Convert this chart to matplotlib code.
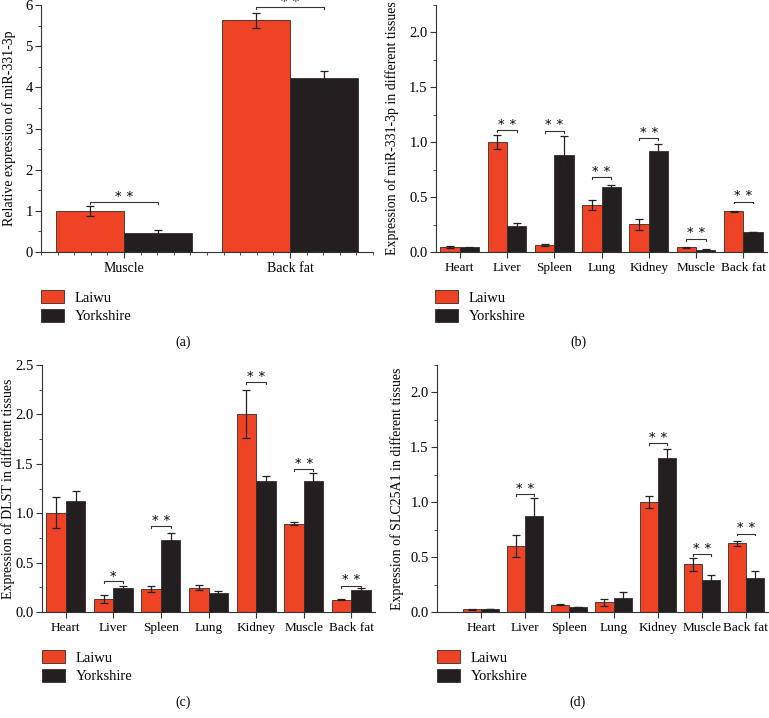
import numpy as np
import matplotlib.pyplot as plt
from matplotlib.patches import Patch
from matplotlib.ticker import MultipleLocator

plt.rcParams['font.family'] = ['Liberation Serif', 'DejaVu Serif']

RED = '#ee4325'
BLACK = '#231f20'

# (a) miR-331-3p, muscle vs back fat
a_cats = ['Muscle', 'Back fat']
a_laiwu = [1.0, 5.63]
a_laiwu_err = [0.12, 0.18]
a_york = [0.46, 4.23]
a_york_err = [0.07, 0.17]
a_sig = [(0, '**', 1.21), (1, '**', 5.95)]

tissues = ['Heart', 'Liver', 'Spleen', 'Lung', 'Kidney', 'Muscle', 'Back fat']

# (b) miR-331-3p in tissues
b_laiwu = [0.046, 1.0, 0.067, 0.426, 0.253, 0.043, 0.37]
b_laiwu_err = [0.006, 0.065, 0.01, 0.045, 0.05, 0.005, 0.008]
b_york = [0.043, 0.237, 0.88, 0.59, 0.92, 0.021, 0.183]
b_york_err = [0.003, 0.03, 0.18, 0.02, 0.065, 0.003, 0.003]
b_sig = [(1, '**', 1.11), (2, '**', 1.105), (3, '**', 0.685), (4, '**', 1.035),
         (5, '**', 0.122), (6, '**', 0.46)]

# (c) DLST
c_laiwu = [1.007, 0.135, 0.233, 0.247, 2.0, 0.895, 0.122]
c_laiwu_err = [0.155, 0.04, 0.034, 0.027, 0.243, 0.017, 0.005]
c_york = [1.12, 0.247, 0.726, 0.196, 1.324, 1.324, 0.22]
c_york_err = [0.1, 0.02, 0.074, 0.012, 0.05, 0.085, 0.02]
c_sig = [(1, '*', 0.31), (2, '**', 0.87), (4, '**', 2.325), (5, '**', 1.45), (6, '**', 0.267)]

# (d) SLC25A1
d_laiwu = [0.024, 0.60, 0.067, 0.088, 1.0, 0.435, 0.624]
d_laiwu_err = [0.003, 0.1, 0.004, 0.03, 0.053, 0.06, 0.027]
d_york = [0.027, 0.874, 0.046, 0.131, 1.406, 0.289, 0.31]
d_york_err = [0.003, 0.16, 0.003, 0.05, 0.077, 0.052, 0.06]
d_sig = [(1, '**', 1.075), (4, '**', 1.537), (5, '**', 0.524), (6, '**', 0.715)]

W = 0.41


def panel(rect, cats, laiwu, lerr, york, yerr, sig, ylabel, ylim, ymaj, ymin,
          xlim, fmt, xminor, labx, xfs, yfs):
    ax = fig.add_axes(rect)
    x = np.arange(1, len(cats) + 1)
    ax.bar(x - W / 2, laiwu, W, color=RED, edgecolor='#3a2a25', linewidth=0.6)
    ax.bar(x + W / 2, york, W, color=BLACK, edgecolor='#3a2a25', linewidth=0.6)
    ax.errorbar(x - W / 2, laiwu, yerr=lerr, fmt='none', ecolor='#222',
                elinewidth=0.9, capsize=3, capthick=0.9)
    ax.errorbar(x + W / 2, york, yerr=yerr, fmt='none', ecolor='#222',
                elinewidth=0.9, capsize=3, capthick=0.9)
    span = ylim[1] - ylim[0]
    for i, s, h in sig:
        x0, x1 = x[i] - W / 2, x[i] + W / 2
        d = span * 0.008
        ax.plot([x0, x0, x1, x1], [h - d, h, h, h - d], color='#333',
                lw=0.8, clip_on=False)
        ax.text((x0 + x1) / 2, h + span * 0.005, s.replace('*', '\u2217 ').strip(),
                ha='center', va='bottom', fontsize=9, clip_on=False)
    ax.set_xlim(*xlim)
    ax.set_ylim(*ylim)
    ax.set_xticks(x)
    ax.set_xticklabels(cats, fontsize=xfs)
    if xminor:
        ax.xaxis.set_minor_locator(MultipleLocator(xminor))
    ax.yaxis.set_major_locator(MultipleLocator(ymaj))
    ax.yaxis.set_minor_locator(MultipleLocator(ymin))
    ax.yaxis.set_major_formatter(fmt)
    ax.tick_params(axis='both', which='major', length=4, width=0.8,
                   color='#333')
    ax.tick_params(axis='y', which='major', labelsize=10.5, pad=2)
    ax.tick_params(axis='both', which='minor', length=2, width=0.6, color='#333')
    ax.set_ylabel(ylabel, fontsize=yfs)
    ax.yaxis.set_label_coords(labx, 0.5)
    ax.spines['top'].set_visible(False)
    ax.spines['right'].set_visible(False)
    for sp in ['left', 'bottom']:
        ax.spines[sp].set_linewidth(0.8)
        ax.spines[sp].set_color('#333')
    return ax


fig = plt.figure(figsize=(7.69, 7.18), dpi=100)
FW, FH = 769, 718


def rect(l, r, t, b):
    return [l / FW, 1 - b / FH, (r - l) / FW, (b - t) / FH]


panel(rect(41, 373, 5, 252), a_cats, a_laiwu, a_laiwu_err, a_york, a_york_err,
      a_sig, 'Relative expression of miR-331-3p', (0, 6), 1, 0.5,
      (0.5, 2.5), '{x:.0f}', 0.1, -0.076, 10, 10)
panel(rect(436, 767, 5, 252), tissues, b_laiwu, b_laiwu_err, b_york, b_york_err,
      b_sig, 'Expression of miR-331-3p in different tissues', (0, 2.25), 0.5, 0.25,
      (0.5, 7.5), '{x:.1f}', None, -0.112, 9.5, 10)
panel(rect(42, 375, 365, 612), tissues, c_laiwu, c_laiwu_err, c_york, c_york_err,
      c_sig, 'Expression of DLST in different tissues', (0, 2.5), 0.5, 0.25,
      (0.5, 7.5), '{x:.1f}', None, -0.082, 9.5, 10)
panel(rect(437, 768, 365, 612), tissues, d_laiwu, d_laiwu_err, d_york, d_york_err,
      d_sig, 'Expression of SLC25A1 in different tissues', (0, 2.25), 0.5, 0.25,
      (0.0, 7.5), '{x:.1f}', None, -0.1, 9.5, 10)

# legends and captions
handles = [Patch(facecolor=RED, edgecolor='#3a2a25', linewidth=0.6, label='Laiwu'),
           Patch(facecolor=BLACK, edgecolor='#3a2a25', linewidth=0.6, label='Yorkshire')]
for lx, ty, cap, cx in [(41, 290, '(a)', 183), (435, 290, '(b)', 578),
                        (42, 650, '(c)', 183), (437, 650, '(d)', 578)]:
    fig.legend(handles=handles, loc='upper left', bbox_to_anchor=(lx / FW, 1 - ty / FH),
               frameon=False, handlelength=1.6, handleheight=1.0,
               labelspacing=0.3, handletextpad=0.7, borderaxespad=0, borderpad=0,
               prop={'family': 'Liberation Serif', 'size': 10.5})
    fig.text(cx / FW, 1 - (ty + 52) / FH, cap, ha='center', va='center', fontsize=10)

fig.savefig('out.png', dpi=100)
